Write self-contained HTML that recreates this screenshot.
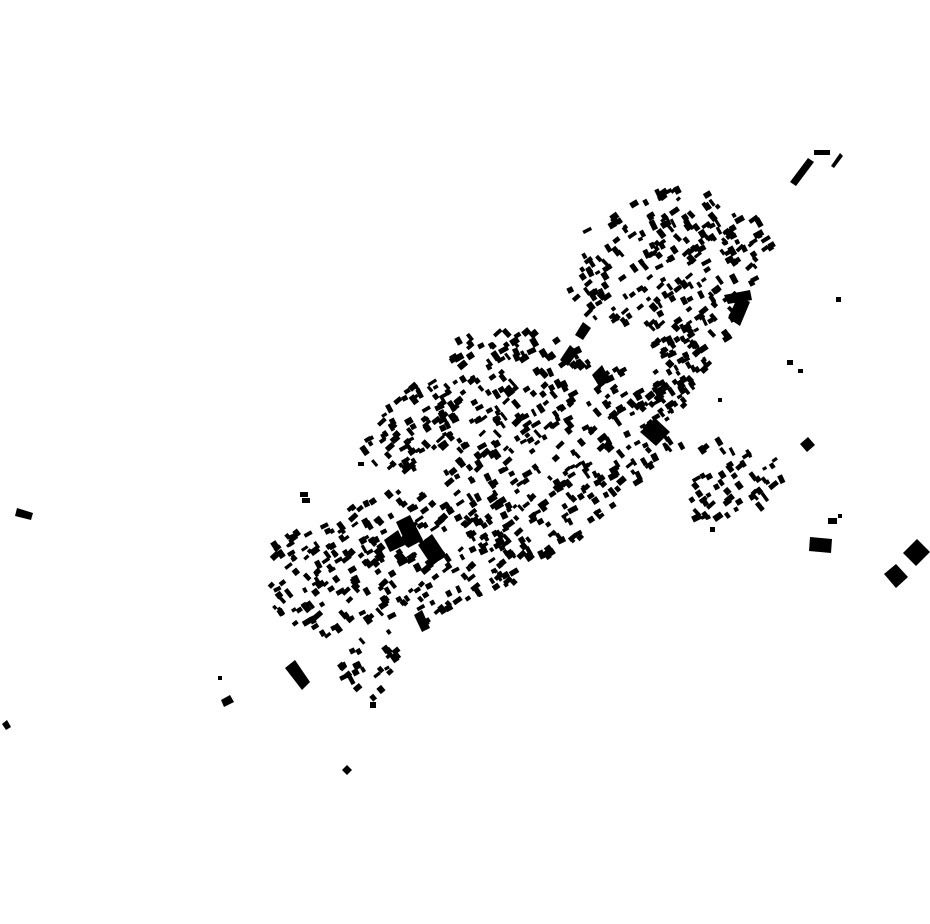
<!DOCTYPE html>
<html><head><meta charset="utf-8"><style>
html,body{margin:0;padding:0;background:#fff;}
svg{display:block;}
</style></head><body>
<svg id="s" width="930" height="924" viewBox="0 0 930 924" xmlns="http://www.w3.org/2000/svg">
<rect width="930" height="924" fill="#fff"/>
<g fill="#000">
<!-- northeast strokes -->
<polygon points="790,182 808,158 814,162 796,186"/>
<rect x="814" y="150" width="16" height="5"/>
<polygon points="831,166 840,153 843,156 834,168"/>
<!-- big blocks -->
<polygon points="418,545 432,534 446,555 432,566"/>
<polygon points="396,522 410,515 423,540 408,548"/>
<polygon points="384,540 398,530 405,545 390,552"/>
<polygon points="728,318 738,296 750,302 740,326"/>
<polygon points="724,295 750,290 752,300 728,304"/>
<polygon points="640,432 655,418 670,432 656,446"/>
<polygon points="575,335 583,322 591,328 583,340"/>
<polygon points="560,360 570,345 578,352 568,366"/>
<polygon points="414,615 422,610 430,628 422,632"/>
<polygon points="285,668 295,660 310,682 302,690"/>
<polygon points="592,375 602,365 610,380 600,388"/>
<!-- isolated -->
<polygon points="17,508 33,513 31,520 15,516"/>
<polygon points="2,724 7,720 11,727 6,730"/>
<polygon points="221,700 230,695 234,702 224,707"/>
<polygon points="342,770 347,765 352,770 347,775"/>
<rect x="836" y="297" width="5" height="5"/>
<rect x="787" y="360" width="6" height="5"/>
<rect x="798" y="369" width="5" height="4"/>
<rect x="718" y="398" width="4" height="4"/>
<polygon points="800,444 808,437 815,445 807,452"/>
<polygon points="810,537 832,539 831,553 809,551"/>
<rect x="828" y="518" width="9" height="6"/>
<rect x="838" y="514" width="4" height="4"/>
<polygon points="903,553 917,539 930,552 916,566"/>
<polygon points="884,574 896,564 908,577 896,588"/>
<rect x="710" y="527" width="5" height="5"/>
<rect x="218" y="676" width="4" height="4"/>
<rect x="300" y="492" width="8" height="5"/>
<rect x="302" y="498" width="8" height="5"/>
<rect x="358" y="462" width="6" height="4"/>
<rect x="370" y="702" width="6" height="6"/>
</g>
<g id="gen" fill="#000"></g>
</svg>
<script>
var seed=12345;function r(){seed=(seed*1103515245+12345)%2147483648;return seed/2147483648;}
function inPoly(x,y,p){var c=false;for(var i=0,j=p.length-1;i<p.length;j=i++){var xi=p[i][0],yi=p[i][1],xj=p[j][0],yj=p[j][1];if(((yi>y)!=(yj>y))&&(x<(xj-xi)*(y-yi)/(yj-yi)+xi))c=!c;}return c;}
var regions=[
 {p:[[665,185],[710,195],[775,230],[770,265],[745,300],[725,345],[690,335],[650,330],[600,322],[565,305],[572,260],[585,230],[620,205]],n:230},
 {p:[[650,330],[725,345],[700,380],[680,415],[650,410],[655,370]],n:70},
 {p:[[460,335],[500,325],[560,340],[610,360],[645,390],[680,430],[660,470],[620,500],[595,530],[560,555],[520,565],[480,548],[445,505],[438,450],[445,380]],n:380},
 {p:[[410,385],[445,380],[448,470],[400,470],[360,460],[375,420]],n:70},
 {p:[[330,520],[370,495],[410,490],[450,500],[490,525],[515,545],[520,580],[490,600],[440,615],[405,640],[395,670],[380,705],[350,690],[330,650],[300,635],[275,615],[265,570],[270,545],[300,530]],n:280},
 {p:[[675,440],[720,440],[780,445],[800,460],[790,480],[760,510],[700,520],[675,505],[690,470]],n:55}
];
var g=document.getElementById('gen'),h='';
regions.forEach(function(R){var xs=R.p.map(function(q){return q[0]}),ys=R.p.map(function(q){return q[1]});
var x0=Math.min.apply(0,xs),x1=Math.max.apply(0,xs),y0=Math.min.apply(0,ys),y1=Math.max.apply(0,ys);
var k=0,t=0;while(k<R.n&&t<20000){t++;var x=x0+r()*(x1-x0),y=y0+r()*(y1-y0);if(!inPoly(x,y,R.p))continue;k++;
var w=4+r()*6,hh=3+r()*3.5,a=(r()<0.5?-35:55)+(r()-0.5)*20;
h+='<rect x="'+(-w/2).toFixed(1)+'" y="'+(-hh/2).toFixed(1)+'" width="'+w.toFixed(1)+'" height="'+hh.toFixed(1)+'" transform="translate('+x.toFixed(1)+','+y.toFixed(1)+') rotate('+a.toFixed(0)+')"/>';}
});
g.innerHTML=h;
</script>
</body></html>
